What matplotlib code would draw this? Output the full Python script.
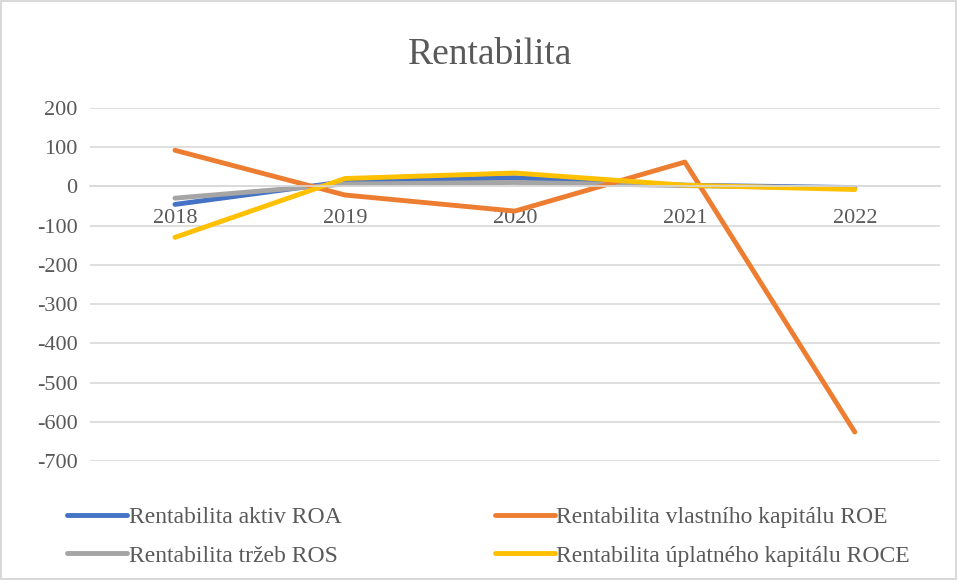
import numpy as np
import matplotlib.pyplot as plt

plt.rcParams['font.family'] = ['Liberation Serif', 'DejaVu Serif']
plt.rcParams['axes.unicode_minus'] = False

years = ['2018', '2019', '2020', '2021', '2022']
roa = [-46, 12, 22, 3, -3]
roe = [92, -22, -63, 62, -626]
ros = [-30, 6, 10, 2, -5]
roce = [-130, 20, 34, 3, -8]

labels = ['Rentabilita aktiv ROA', 'Rentabilita tržeb ROS',
          'Rentabilita vlastního kapitálu ROE', 'Rentabilita úplatného kapitálu ROCE']
series = [roa, ros, roe, roce]
colors = ['#4472C4', '#A5A5A5', '#ED7D31', '#FFC000']
text_col = '#595959'
grid_col = '#d9d9d9'

fig = plt.figure(figsize=(9.57, 5.8), dpi=100)
fig.patch.set_edgecolor(grid_col)
fig.patch.set_linewidth(1.5)
ax = fig.add_axes([0.094, 0.205, 0.888, 0.609])

x = np.arange(len(years))
handles = []
for s, c, lab in zip(series, colors, labels):
    h, = ax.plot(x, s, color=c, lw=3.5, solid_capstyle='round', solid_joinstyle='round', label=lab)
    handles.append(h)

ax.set_xlim(-0.5, 4.5)
ax.set_ylim(-700, 200)
ax.set_yticks(np.arange(-700, 201, 100))
ax.yaxis.grid(True, color=grid_col, lw=1.2)
ax.set_axisbelow(True)
for sp in ['top', 'right', 'left']:
    ax.spines[sp].set_visible(False)
ax.spines['bottom'].set_position(('data', 0))
ax.spines['bottom'].set_color(grid_col)
ax.spines['bottom'].set_linewidth(1.2)
ax.set_xticks(x)
ax.set_xticklabels(years)
ax.tick_params(axis='both', length=0, labelsize=16, labelcolor=text_col)
ax.tick_params(axis='x', pad=16)
ax.tick_params(axis='y', pad=9)

fig.text(0.512, 0.905, 'Rentabilita', ha='center', va='center', fontsize=27, color=text_col)

fig.legend(handles=handles, labels=labels, ncol=2, loc='center left',
           bbox_to_anchor=(0.048, 0.075), frameon=False, fontsize=17,
           labelcolor=text_col, handlelength=2.55, handletextpad=0.05,
           columnspacing=6.5, labelspacing=0.72)

fig.savefig('out.png', dpi=100)
